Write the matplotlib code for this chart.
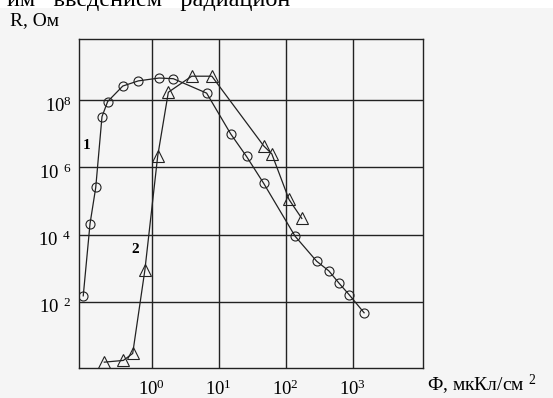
import matplotlib
matplotlib.use("Agg")
import matplotlib.pyplot as plt
from matplotlib.patches import Rectangle
from matplotlib.ticker import NullLocator, FixedLocator
from matplotlib.transforms import ScaledTranslation

plt.rcParams['font.family'] = ['Liberation Serif', 'DejaVu Serif']
plt.rcParams['mathtext.fontset'] = 'custom'
plt.rcParams['mathtext.rm'] = 'Liberation Serif'

# кривая 1 (кружки): флюенс, мкКл/см2 и сопротивление, Ом
phi_1 = [0.095, 0.12, 0.146, 0.181, 0.22, 0.37, 0.63, 1.29, 2.1, 6.6,
         15.1, 26, 47, 138, 290, 440, 630, 890, 1480]
r_1 = [1.5e2, 2.1e4, 2.5e5, 3.2e7, 9.0e7, 2.6e8, 3.7e8, 4.5e8, 4.3e8, 1.6e8,
       9.8e6, 2.1e6, 3.3e5, 8.9e3, 1.6e3, 8.3e2, 3.5e2, 1.6e2, 4.7e1]

# кривая 2 (треугольники)
phi_2 = [0.196, 0.377, 0.52, 0.79, 1.23, 1.77, 3.95, 7.9, 47, 62, 112, 174]
r_2 = [1.6, 1.8, 2.9, 8.7e2, 2.2e6, 1.7e8, 5.1e8, 5.1e8, 4.3e6, 2.5e6,
       1.1e5, 3.0e4]

x_ticks = [1e0, 1e1, 1e2, 1e3]
x_labels = [r'$\mathrm{10^{0}}$', r'$\mathrm{10^{1}}$',
            r'$\mathrm{10^{2}}$', r'$\mathrm{10^{3}}$']
y_ticks = [1e2, 1e4, 1e6, 1e8]
y_labels = [r'$\mathrm{10}\ \mathrm{{}^{2}}$', r'$\mathrm{10}\ \mathrm{{}^{4}}$',
            r'$\mathrm{10}\ \mathrm{{}^{6}}$', r'$\mathrm{10^{8}}$']

bg = '#f5f5f5'
fig = plt.figure(figsize=(5.53, 3.98), dpi=100, facecolor=bg)

# белая полоса сверху с обрезанной строкой текста
fig.patches.append(Rectangle((0, 1 - 8 / 398), 1, 8 / 398, transform=fig.transFigure,
                             facecolor='white', edgecolor='none', zorder=0))
fig.text(7 / 553, 1 - 6 / 398, 'им   введением   радиацион', fontsize=17.5,
         ha='left', va='baseline', zorder=2)

ax = fig.add_axes([78.7 / 553, 30 / 398, 344 / 553, 328.7 / 398])
ax.set_facecolor(bg)
ax.set_xscale('log')
ax.set_yscale('log')
ax.set_xlim(10 ** -1.09, 10 ** 4.045)
ax.set_ylim(10 ** 0.03, 10 ** 9.805)

ax.plot(phi_1, r_1, color='#222222', lw=0.9, marker='o', ms=6.5,
        mfc='none', mec='#222222', mew=0.8)
ax.plot(phi_2, r_2, color='#222222', lw=0.9, marker='^', ms=8,
        mfc='none', mec='#222222', mew=0.8)

ax.xaxis.set_major_locator(FixedLocator(x_ticks))
ax.yaxis.set_major_locator(FixedLocator(y_ticks))
ax.xaxis.set_minor_locator(NullLocator())
ax.yaxis.set_minor_locator(NullLocator())
ax.set_xticklabels(x_labels)
ax.set_yticklabels(y_labels)
ax.tick_params(which='both', length=0, labelsize=13.5)
ax.tick_params(axis='x', pad=8)
ax.tick_params(axis='y', pad=5)
# подписи по оси R чуть ниже линий сетки
shift = ScaledTranslation(0, -4 / 100, fig.dpi_scale_trans)
for lbl in ax.get_yticklabels():
    lbl.set_verticalalignment('center_baseline')
    lbl.set_transform(lbl.get_transform() + shift)
ax.grid(True, color='#222222', lw=1.0)
for s in ax.spines.values():
    s.set_color('#222222')
    s.set_linewidth(1.0)

ax.text(0.108, 4.3e6, '1', fontsize=11, fontweight='bold', ha='center', va='center')
ax.text(0.56, 3.5e3, '2', fontsize=11, fontweight='bold', ha='center', va='center')

fig.text(10 / 553, 1 - 25 / 398, 'R, Ом', fontsize=14, ha='left', va='baseline')
fig.text(427 / 553, 1 - 391 / 398, r'Ф, мкКл/см $\mathrm{{}^{2}}$', fontsize=14,
         ha='left', va='baseline')

fig.savefig('out.png', dpi=100, facecolor=bg)
